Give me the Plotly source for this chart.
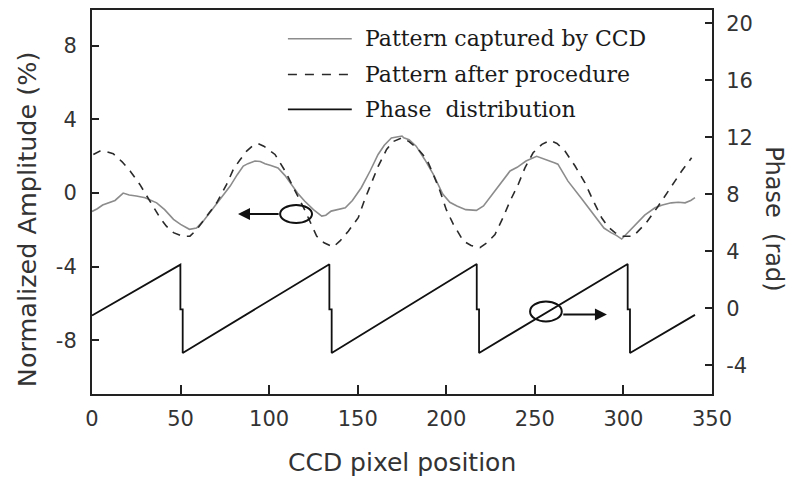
import plotly.graph_objects as go

# ---------------- data ----------------
captured_x = [0, 3, 6, 10, 13, 17.6, 21, 25, 30, 36.5, 41, 46, 50, 55, 59, 63, 67, 70, 74, 78,
              82, 85.4, 88, 92, 95, 97.7, 101, 105, 109, 112.7, 116, 120, 125, 129.7, 132, 135,
              139, 143, 147, 152, 157, 161.5, 165, 169, 172, 175, 176, 179, 183, 188, 192.6, 198,
              202, 206, 211, 217, 221, 226.5, 231, 236, 240, 245, 251, 254, 256.7, 261, 263,
              268.7, 276, 281, 285.6, 289, 293, 296, 299, 302, 306.5, 312, 317.8, 322, 327, 331,
              334.8, 338, 340.4]
captured_y = [-1.0, -0.85, -0.65, -0.53, -0.4, 0.0, -0.1, -0.16, -0.25, -0.53, -0.9, -1.43, -1.7,
              -1.97, -1.9, -1.5, -1.0, -0.6, -0.1, 0.38, 1.0, 1.47, 1.6, 1.74, 1.72, 1.6, 1.5, 1.37,
              0.95, 0.47, 0.0, -0.43, -0.9, -1.25, -1.2, -0.98, -0.9, -0.8, -0.4, 0.29, 1.2, 2.1,
              2.6, 3.0, 3.05, 3.1, 3.0, 2.9, 2.55, 1.8, 1.03, -0.05, -0.5, -0.7, -0.9, -0.94, -0.7,
              0.0, 0.6, 1.2, 1.4, 1.74, 2.0, 1.9, 1.83, 1.65, 1.57, 0.65, -0.25, -0.9, -1.52, -1.9,
              -2.15, -2.3, -2.5, -2.2, -1.7, -1.2, -0.8, -0.65, -0.53, -0.5, -0.53, -0.4, -0.25]

processed_x = [0.75, 4.5, 8, 12, 17, 21.5, 27, 32.7, 38.4, 42, 46, 51, 55.3, 59, 62.8, 66.5, 70.4,
               76, 79.8, 83.5, 87.3, 90.5, 93.9, 97, 100, 103.3, 109, 114.6, 120, 126.8, 131,
               136.2, 140, 144.7, 150.3, 154, 157.9, 161.6, 166.3, 170, 175, 179, 184, 189, 192.6,
               196.5, 200, 204, 209.6, 214, 219, 223, 227.5, 232, 236, 240.6, 244.4, 249, 254,
               258.5, 262.5, 267, 272.7, 278.3, 283, 287.7, 291, 295.2, 300, 305.6, 309, 313, 319,
               325.3, 332.9, 338.5]
processed_y = [2.1, 2.28, 2.25, 2.14, 1.7, 1.2, 0.47, -0.43, -1.34, -1.8, -2.15, -2.35, -2.34,
               -2.0, -1.52, -1.0, -0.53, 0.47, 1.29, 1.8, 2.28, 2.55, 2.68, 2.55, 2.35, 2.1, 1.2,
               0.1, -0.9, -2.34, -2.7, -2.93, -2.6, -2.07, -1.34, -0.34, 0.56, 1.47, 2.37, 2.8,
               3.0, 2.8, 2.4, 1.83, 1.03, 0.1, -0.9, -1.7, -2.6, -2.85, -2.97, -2.7, -2.25, -1.34,
               -0.43, 0.47, 1.37, 2.19, 2.65, 2.86, 2.7, 2.28, 1.47, 0.56, -0.43, -1.34, -1.8,
               -2.15, -2.35, -2.34, -2.0, -1.6, -0.8, 0.1, 1.2, 1.92]

phase_x = [0, 49.9, 49.9, 51.2, 51.2, 134.0, 134.0, 135.3, 135.3, 217.2, 217.2, 218.5, 218.5,
           302.4, 302.4, 303.7, 303.7, 340.4]
phase_y = [-0.5, 3.07, -0.07, -0.07, -3.12, 3.1, -0.07, -0.07, -3.12, 3.12, -0.07, -0.07, -3.12,
           3.12, -0.07, -0.07, -3.12, -0.45]

x_ticks = [0, 50, 100, 150, 200, 250, 300, 350]
y_ticks = [-8, -4, 0, 4, 8]
y_ticktext = ["-8", "-4", "0", "4", "8"]
y2_ticks = [-4, 0, 4, 8, 12, 16, 20]
y2_ticktext = ["-4", "0", "4", "8", "12", "16", "20"]

legend_labels = ["Pattern captured by CCD", "Pattern after procedure", "Phase  distribution"]
x_title = "CCD pixel position"
y_title = "Normalized Amplitude (%)"
y2_title = "Phase  (rad)"

# ---------------- figure ----------------
GRAY = "#8c8c8c"
DARK = "#2a2a2a"
AX = "#222222"
SANS = "DejaVu Sans"
SERIF = "DejaVu Serif"

fig = go.Figure()
fig.add_trace(go.Scatter(x=captured_x, y=captured_y, mode="lines", name=legend_labels[0],
                         line=dict(color=GRAY, width=1.6), showlegend=False))
fig.add_trace(go.Scatter(x=processed_x, y=processed_y, mode="lines", name=legend_labels[1],
                         line=dict(color=DARK, width=1.6, dash="8px,7px"), showlegend=False))
fig.add_trace(go.Scatter(x=phase_x, y=phase_y, mode="lines", name=legend_labels[2], yaxis="y2",
                         line=dict(color="#111111", width=1.8), showlegend=False))

tickfont = dict(family=SANS, size=21, color="#333333")
fig.update_layout(
    width=795, height=477,
    margin=dict(l=92, r=83, t=8, b=83),
    paper_bgcolor="white", plot_bgcolor="white",
    xaxis=dict(range=[0, 350], tickvals=x_ticks,
               ticks="inside", ticklen=9, tickwidth=2, tickcolor=AX,
               showline=True, linecolor=AX, linewidth=2, mirror=True,
               showgrid=False, zeroline=False, tickfont=tickfont, ticklabelstandoff=5),
    yaxis=dict(range=[-10.92, 9.95], tickvals=y_ticks, ticktext=y_ticktext,
               ticks="inside", ticklen=7, tickwidth=2, tickcolor=AX,
               showline=True, linecolor=AX, linewidth=2, mirror=True,
               showgrid=False, zeroline=False, tickfont=tickfont, ticklabelstandoff=9),
    yaxis2=dict(range=[-6.0, 20.93], tickvals=y2_ticks, ticktext=y2_ticktext, overlaying="y",
                side="right", ticks="inside", ticklen=7, tickwidth=2, tickcolor=AX,
                showline=True, linecolor=AX, linewidth=2,
                showgrid=False, zeroline=False, tickfont=tickfont, ticklabelstandoff=8),
)

# axis titles
fig.add_annotation(text=x_title, xref="paper", yref="paper", x=0.5, y=-0.178,
                   xanchor="center", yanchor="middle", showarrow=False,
                   font=dict(family=SANS, size=25, color="#333333"))
fig.add_annotation(text=y_title, xref="paper", yref="paper", x=-0.105, y=0.455,
                   xanchor="center", yanchor="middle", showarrow=False, textangle=-90,
                   font=dict(family=SANS, size=25.5, color="#333333"))
fig.add_annotation(text=y2_title, xref="paper", yref="paper", x=1.1, y=0.458,
                   xanchor="center", yanchor="middle", showarrow=False, textangle=90,
                   font=dict(family=SANS, size=24, color="#333333"))

# legend (drawn manually)
leg_y = [0.925, 0.832, 0.741]
leg_styles = [dict(color=GRAY, width=1.6), dict(color=DARK, width=1.6, dash="9px,8px"),
              dict(color="#111111", width=1.8)]
for lab, yy, st in zip(legend_labels, leg_y, leg_styles):
    fig.add_shape(type="line", xref="paper", yref="paper", x0=0.316, x1=0.419, y0=yy, y1=yy,
                  line=st)
    fig.add_annotation(text=lab, xref="paper", yref="paper", x=0.437, y=yy, xanchor="left",
                       yanchor="middle", showarrow=False,
                       font=dict(family=SERIF, size=22, color="#1a1a1a"))

# ellipses + arrows marking which axis each curve uses
fig.add_shape(type="circle", xref="x", yref="y", x0=106.2, x1=124.2, y0=-1.63, y1=-0.65,
              line=dict(color="#111111", width=2))
fig.add_annotation(x=82.4, y=-1.14, ax=106.2, ay=-1.14, xref="x", yref="y", axref="x",
                   ayref="y", text="", showarrow=True, arrowhead=2, arrowsize=1.2,
                   arrowwidth=2, arrowcolor="#111111", standoff=0, startstandoff=0)
fig.add_shape(type="circle", xref="x", yref="y2", x0=247.3, x1=265.2, y0=-0.91, y1=0.49,
              line=dict(color="#111111", width=2))
fig.add_annotation(x=290.7, y=-0.42, ax=265.2, ay=-0.42, xref="x", yref="y2", axref="x",
                   ayref="y2", text="", showarrow=True, arrowhead=2, arrowsize=1.2,
                   arrowwidth=2, arrowcolor="#111111", standoff=0, startstandoff=0)

fig.write_html("out.html")
